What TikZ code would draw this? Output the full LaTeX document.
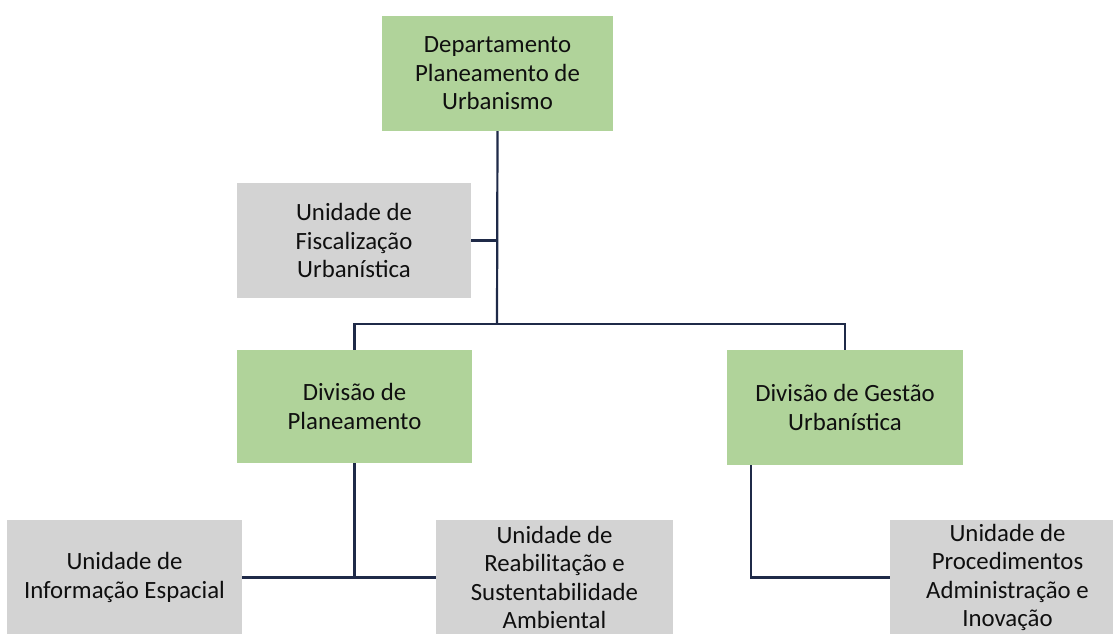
\documentclass[tikz,border=0pt]{standalone}
\usepackage{fontspec}
\setmainfont{Carlito}
\definecolor{boxgreen}{RGB}{176,211,154}
\definecolor{boxgray}{RGB}{211,211,211}
\definecolor{linenavy}{RGB}{31,42,72}
\definecolor{txt}{RGB}{15,15,15}
\tikzset{
  orgbox/.style={rectangle, inner sep=0pt, minimum width=#1, minimum height=115pt,
    align=center, text=txt, font=\fontsize{24.8}{28.6}\selectfont},
  greenbox/.style={orgbox=#1, fill=boxgreen},
  graybox/.style={orgbox=#1, fill=boxgray},
  link/.style={draw=linenavy, line width=2.2pt}
}
\begin{document}
\begin{tikzpicture}[x=1pt,y=-1pt]
\useasboundingbox (0,0) rectangle (1113,633);
\node[greenbox=231pt] (A) at (497.5,73.5) {Departamento\\Planeamento de\\Urbanismo};
\node[graybox=234pt] (B) at (354,240.5) {Unidade de\\Fiscalização\\Urbanística};
\node[greenbox=235pt, minimum height=113pt] (C) at (354.5,406.5) {Divisão de\\Planeamento};
\node[greenbox=236pt] (D) at (845,407.5) {Divisão de Gestão\\Urbanística};
\node[graybox=235pt] (E) at (124.5,577.5) {Unidade de\\Informação Espacial};
\node[graybox=237pt] (F) at (554.5,577.5) {Unidade de\\Reabilitação e\\Sustentabilidade\\Ambiental};
\node[graybox=235pt] (G) at (1007.5,577.5) {Unidade de\\Procedimentos\\Administração e\\Inovação};
\coordinate (bus) at (497,324);
\draw[link] (A.south) -- (bus);
\draw[link] (B.east) -- (B.east -| bus);
\draw[link] (C.north) |- (bus) -| (D.north);
\coordinate (cj) at (C.south |- E.east);
\draw[link] (C.south) -- (cj);
\draw[link] (E.east) -- (F.west);
\draw[link] ([xshift=24pt]D.south west) |- (G.west);
\end{tikzpicture}
\end{document}
